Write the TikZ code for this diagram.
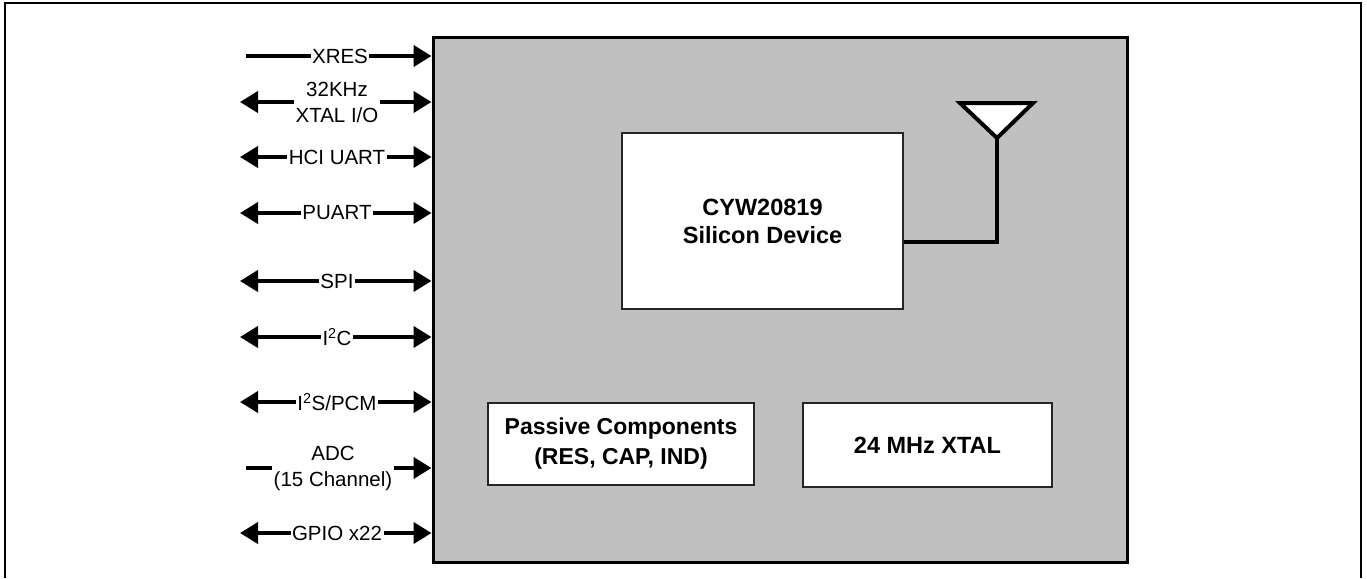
\documentclass[tikz,border=0pt]{standalone}
\usepackage{fontspec}
\setmainfont{Liberation Sans}
\usetikzlibrary{arrows.meta}
\definecolor{modgray}{RGB}{192,192,192}
\tikzset{
  sig/.style={line width=4pt, -{Triangle[length=18pt,width=21pt]}},
  bisig/.style={line width=4pt, {Triangle[length=18pt,width=21pt]}-{Triangle[length=18pt,width=21pt]}},
  siglabel/.style={fill=white, inner sep=1.5pt, align=center, font=\fontsize{20.5}{26}\selectfont},
  whitebox/.style={draw=black!85, line width=1.5pt, fill=white, align=center, inner sep=0pt},
  boldtext/.style={font=\fontsize{23.5}{28}\selectfont\bfseries}
}
\begin{document}
\begin{tikzpicture}[x=1pt,y=-1pt]
\useasboundingbox (0,0) rectangle (1367,578);
% outer frame (open at bottom)
\draw[line width=2pt] (5,578) -- (5,3) -- (1361,3) -- (1361,578);
% module
\node[draw=black, line width=3pt, fill=modgray, minimum width=694pt, minimum height=524pt, inner sep=0pt] (mod) at (780,300) {};
% inner blocks
\node[whitebox, boldtext, minimum width=281pt, minimum height=176pt] (chip) at (762.5,221) {CYW20819\\Silicon Device};
\node[whitebox, font=\fontsize{23}{30}\selectfont\bfseries, minimum width=266pt, minimum height=82pt] (pass) at (621,444) {Passive Components\\(RES, CAP, IND)};
\node[whitebox, boldtext, minimum width=249pt, minimum height=84pt] (xtal) at (927.5,445) {24 MHz XTAL};
% antenna
\coordinate (apex) at (997,138);
\coordinate (antL) at (960,103);
\coordinate (antR) at (1033,103);
\draw[line width=4pt, fill=white, line join=miter] (antL) -- (antR) -- (apex) -- cycle;
\coordinate (bend) at (997,242);
\draw[line width=3.5pt] (apex) -- (bend) -- (chip.east |- bend);
% signal rows
\coordinate (l1) at (246,56);
\coordinate (l2) at (240,102);
\coordinate (l3) at (240,157);
\coordinate (l4) at (240,213);
\coordinate (l5) at (240,281);
\coordinate (l6) at (240,337);
\coordinate (l7) at (240,402);
\coordinate (l8) at (246,468);
\coordinate (l9) at (240,533);
\draw[sig] (l1) -- (mod.west |- l1);
\draw[bisig] (l2) -- (mod.west |- l2);
\draw[bisig] (l3) -- (mod.west |- l3);
\draw[bisig] (l4) -- (mod.west |- l4);
\draw[bisig] (l5) -- (mod.west |- l5);
\draw[bisig] (l6) -- (mod.west |- l6);
\draw[bisig] (l7) -- (mod.west |- l7);
\draw[sig] (l8) -- (mod.west |- l8);
\draw[bisig] (l9) -- (mod.west |- l9);
\node[siglabel] (t1) at (340,56) {XRES};
\node[siglabel] (t2) at (337,102) {32KHz\\XTAL I/O};
\node[siglabel] (t3) at (337,157) {HCI UART};
\node[siglabel] (t4) at (337,213) {PUART};
\node[siglabel] (t5) at (337,281) {SPI};
\node[siglabel] (t6) at (337,337) {I\textsuperscript{2}C};
\node[siglabel] (t7) at (337,402) {I\textsuperscript{2}S/PCM};
\node[siglabel] (t8) at (333,468) {ADC\\(15 Channel)};
\node[siglabel] (t9) at (337,533) {GPIO x22};
\end{tikzpicture}
\end{document}
